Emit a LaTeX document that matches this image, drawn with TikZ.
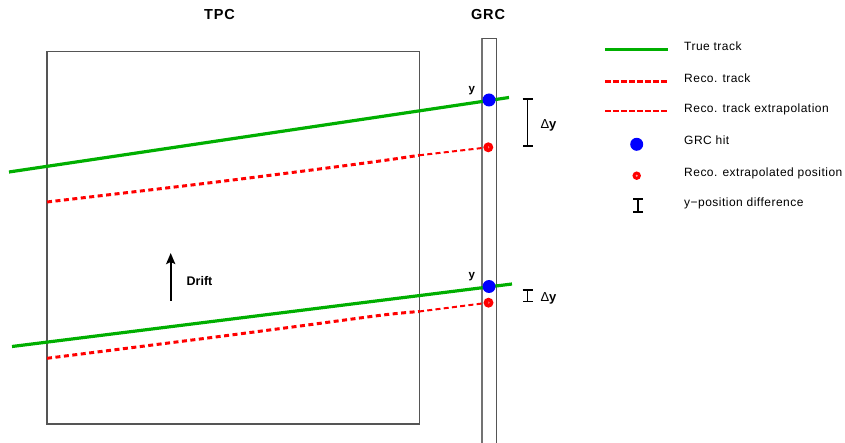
\documentclass[tikz,border=0pt]{standalone}
\usepackage{fontspec}
\setmainfont{Liberation Sans}
\newfontfamily\legfont[LetterSpace=4]{Liberation Sans}
\newfontfamily\ttlfont[LetterSpace=6]{Liberation Sans}
\usetikzlibrary{arrows.meta}
\definecolor{trkgreen}{RGB}{0,175,0}
\definecolor{framegray}{RGB}{85,85,85}
\begin{document}
\begin{tikzpicture}[x=1pt,y=-1pt,
  truetrack/.style={draw=trkgreen, line width=3.2pt},
  recotrack/.style={draw=red, line width=3pt, dash pattern=on 5pt off 3.5pt},
  recoextra/.style={draw=red, line width=2pt, dash pattern=on 5pt off 3.3pt},
  legextra/.style={draw=red, line width=2pt, dash pattern=on 5.5pt off 2.5pt},
  grchit/.style={circle, fill=blue, minimum size=13pt, inner sep=0pt},
  recopos/.style={circle, fill=red, minimum size=10pt, inner sep=0pt},
  recocore/.style={circle, fill=red!35!white, minimum size=2.2pt, inner sep=0pt},
  dybar/.style={draw=black, line width=1.8pt, {Bar[width=10pt,line width=1.8pt]}-{Bar[width=10pt,line width=1.8pt]}},
  frame/.style={draw=framegray, line width=1.3pt},
  legtext/.style={anchor=base west, inner sep=0pt, font=\legfont\fontsize{12}{14}\selectfont},
  title/.style={inner sep=0pt, font=\ttlfont\bfseries\fontsize{14.5}{16}\selectfont},
  ylab/.style={inner sep=0pt, font=\bfseries\fontsize{11.5}{13}\selectfont},
  dylab/.style={inner sep=0pt, font=\fontsize{13}{15}\selectfont}]

\useasboundingbox (0,0) rectangle (845,443);

% detector outlines
\node[title] (tpc) at (219.5,14.5) {TPC};
\node[title] (grc) at (488,14.5) {GRC};
\draw[frame] (47,51.5) rectangle (419.3,424);
\draw[frame, draw=black!55] (482,38.3) -- (482,445);
\draw[frame] (482,38.3) -- (496.5,38.3) -- (496.5,445);

% upper track
\coordinate (t1a) at (9,172);
\coordinate (t1b) at (509,97.5);
\draw[truetrack] (t1a) -- (t1b);
\node[grchit] (hit1) at (489,100) {};
\node[recopos] (rp1) at (488.3,147.3) {};
\node[recocore] (rc1) at (rp1) {};
\draw[recotrack] plot[smooth] coordinates {(47,202) (200,184) (300,171.5) (380,161) (419,155.3)};
\coordinate (e1a) at (419,155.3);
\draw[recoextra] (e1a) -- (rp1.center);
\node[ylab] (y1) at (471.7,90.5) {y};
\coordinate (d1t) at (527.5,98.3);
\coordinate (d1b) at (527.5,147.3);
\draw[dybar] (d1t) -- (d1b);
\node[dylab] (dy1) at (548.5,125.5) {Δ\textbf{y}};

% lower track
\coordinate (t2a) at (12,346.5);
\coordinate (t2b) at (512,284);
\draw[truetrack] (t2a) -- (t2b);
\node[grchit] (hit2) at (489,286.5) {};
\node[recopos] (rp2) at (488.5,302.7) {};
\node[recocore] (rc2) at (rp2) {};
\draw[recotrack] plot[smooth] coordinates {(47,358.3) (200,339) (300,326) (383,315) (419,311.5)};
\coordinate (e2a) at (419,311.5);
\draw[recoextra] (e2a) -- (rp2.center);
\node[ylab] (y2) at (471.7,276.5) {y};
\coordinate (d2t) at (527.5,289.3);
\coordinate (d2b) at (527.5,302.5);
\draw[dybar] (d2t) -- (d2b);
\node[dylab] (dy2) at (548.5,298.5) {Δ\textbf{y}};

% drift direction
\coordinate (dr0) at (170.7,301);
\coordinate (dr1) at (170.7,253);
\draw[line width=2.2pt, -{Stealth[length=11pt,width=9pt,inset=2pt]}] (dr0) -- (dr1);
\node[ylab, font=\bfseries\fontsize{12.5}{14}\selectfont] (drift) at (199.5,280.7) {Drift};

% legend
\coordinate (l1a) at (605,49.5);  \coordinate (l1b) at (668,49.5);
\coordinate (l2a) at (605,81.5);  \coordinate (l2b) at (668,81.5);
\coordinate (l3a) at (605,111.5); \coordinate (l3b) at (668,111.5);
\draw[truetrack] (l1a) -- (l1b);
\draw[recotrack, dash pattern=on 5.5pt off 2.5pt] (l2a) -- (l2b);
\draw[legextra] (l3a) -- (l3b);
\node[grchit] (lhit) at (636.7,144.3) {};
\node[recopos, minimum size=8.5pt] (lrp) at (636.7,175.7) {};
\node[recocore] (lrc) at (lrp) {};
\coordinate (lbt) at (638,198);
\coordinate (lbb) at (638,213);
\draw[dybar] (lbt) -- (lbb);
\node[legtext] (lt1) at (684,50.7) {True track};
\node[legtext] (lt2) at (684,82.2) {Reco. track};
\node[legtext] (lt3) at (684,113) {Reco. track extrapolation};
\node[legtext] (lt4) at (684,145) {GRC hit};
\node[legtext] (lt5) at (684,176.5) {Reco. extrapolated position};
\node[legtext] (lt6) at (684,207) {y−position difference};
\end{tikzpicture}
\end{document}
